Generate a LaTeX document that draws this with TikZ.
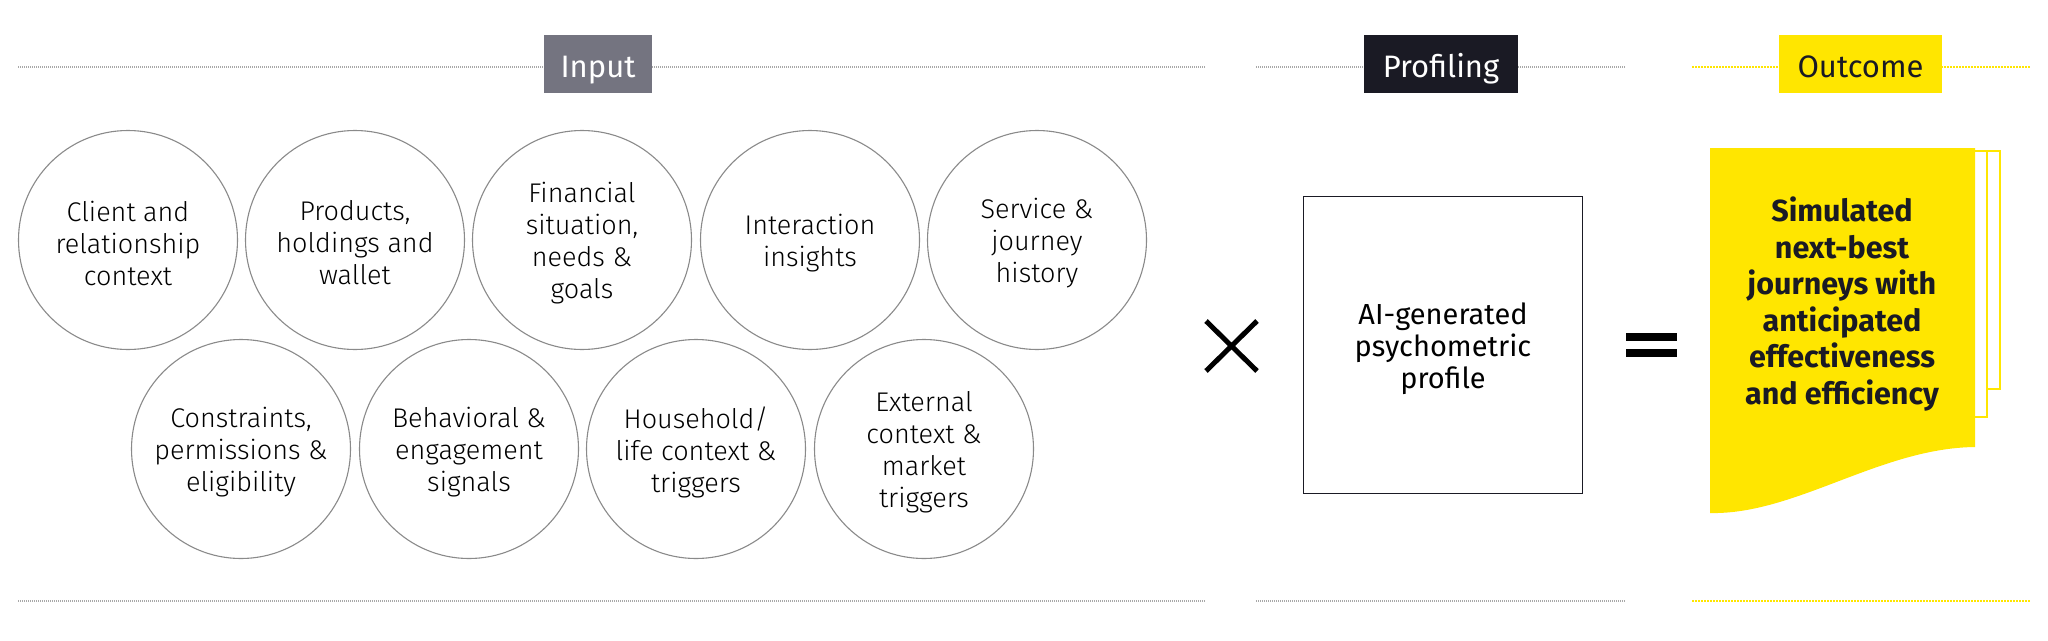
\documentclass[tikz,border=0pt]{standalone}
\usepackage{fontspec}
\setmainfont{Fira Sans}
\newfontfamily\lightfont{Fira Sans}[UprightFont=* Light]
\definecolor{eyyellow}{HTML}{FFE600}
\definecolor{eygray}{HTML}{747480}
\definecolor{eydark}{HTML}{1A1A24}
\definecolor{ringgray}{HTML}{8A8A8A}
\definecolor{rulegray}{HTML}{A8A8A8}
\tikzset{
  ring/.style={circle, draw=ringgray, line width=1.1pt, minimum size=219pt, inner sep=0pt},
  ringtext/.style={align=center, inner sep=0pt, yshift=-3pt, font=\lightfont\fontsize{27}{32}\selectfont, text=black},
  hdr/.style={rectangle, minimum height=58pt, inner sep=0pt, text height=26pt, text depth=0pt,
    font=\fontsize{31}{36}\selectfont},
  rulegrey/.style={draw=rulegray, line width=1.1pt, dash pattern=on 1pt off 1pt},
  ruleyel/.style={draw=eyyellow, line width=1.6pt, dash pattern=on 1.5pt off 1.5pt},
  pageline/.style={draw=eyyellow, line width=2pt}
}
\begin{document}
\begin{tikzpicture}[x=1pt,y=-1pt]
\useasboundingbox[fill=white] (0,0) rectangle (2048,640);

% header rules
\coordinate (inL) at (18,67); \coordinate (inR) at (1205,67);
\coordinate (prL) at (1256,67); \coordinate (prR) at (1626,67);
\coordinate (ouL) at (1692,67); \coordinate (ouR) at (2030,67);
\draw[rulegrey] (inL) -- (inR);
\draw[rulegrey] (prL) -- (prR);
\draw[ruleyel] (ouL) -- (ouR);
% footer rules
\coordinate (finL) at (18,601); \coordinate (finR) at (1205,601);
\coordinate (fprL) at (1256,601); \coordinate (fprR) at (1626,601);
\coordinate (fouL) at (1692,601); \coordinate (fouR) at (2030,601);
\draw[rulegrey] (finL) -- (finR);
\draw[rulegrey] (fprL) -- (fprR);
\draw[ruleyel] (fouL) -- (fouR);

% header labels
\node[hdr, fill=eygray, text=white, minimum width=108pt] (input) at (598,64) {Input};
\node[hdr, fill=eydark, text=white, minimum width=154pt] (profiling) at (1441,64) {Profiling};
\node[hdr, fill=eyyellow, text=eydark, minimum width=163pt] (outcome) at (1860.5,64) {Outcome};

% circles row 1
\node[ring] (c1) at (128,240) {};
\node[ring] (c2) at (355,240) {};
\node[ring] (c3) at (582,240) {};
\node[ring] (c4) at (810,240) {};
\node[ring] (c5) at (1037,240) {};
% circles row 2
\node[ring] (c6) at (241,449) {};
\node[ring] (c7) at (469,449) {};
\node[ring] (c8) at (696,449) {};
\node[ring] (c9) at (924,449) {};
% circle texts
\node[ringtext] (t1) at (c1) {Client and\\relationship\\context};
\node[ringtext] (t2) at (c2) {Products,\\holdings and\\wallet};
\node[ringtext] (t3) at (c3) {Financial\\situation,\\needs \&\\goals};
\node[ringtext] (t4) at (c4) {Interaction\\insights};
\node[ringtext] (t5) at (c5) {Service \&\\journey\\history};
\node[ringtext] (t6) at (c6) {Constraints,\\permissions \&\\eligibility};
\node[ringtext] (t7) at (c7) {Behavioral \&\\engagement\\signals};
\node[ringtext] (t8) at (c8) {Household/\\life context \&\\triggers};
\node[ringtext] (t9) at (c9) {External\\context \&\\market\\triggers};

% times sign
\coordinate (xa) at (1206,321); \coordinate (xb) at (1257,371);
\coordinate (xc) at (1257,321); \coordinate (xd) at (1206,371);
\draw[line width=5pt, black] (xa) -- (xb);
\draw[line width=5pt, black] (xc) -- (xd);

% profile box
\node[rectangle, draw=eydark, line width=1.8pt, minimum width=279pt, minimum height=297pt,
  inner sep=0pt] (ai) at (1443,345) {};
\node[align=center, inner sep=0pt, yshift=-4pt, font=\fontsize{29}{32}\selectfont] (aitext) at (ai)
  {AI-generated\\psychometric\\profile};

% equals sign
\fill[black] (1626,333) rectangle (1677,341);
\fill[black] (1626,349) rectangle (1677,357);

% back pages
\draw[pageline] (1975,151) -- (2000,151) -- (2000,389) -- (1987,389);
\draw[pageline] (1975,151) -- (1987,151) -- (1987,417) -- (1975,417);

% outcome document
\fill[eyyellow] (1710,148) -- (1975,148) -- (1975,447)
  .. controls (1880,448) and (1795,515) .. (1710,513) -- cycle;
\node[align=center, inner sep=0pt, text=eydark, font=\bfseries\fontsize{30.5}{36.6}\selectfont] (res) at (1842,304)
  {Simulated\\next-best\\journeys with\\anticipated\\effectiveness\\and efficiency};
\end{tikzpicture}
\end{document}
